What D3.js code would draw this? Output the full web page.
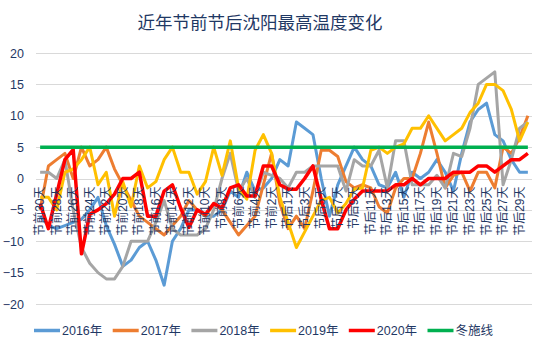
<!DOCTYPE html>
<html><head><meta charset="utf-8">
<script src="https://cdn.jsdelivr.net/npm/d3@7"></script>
<style>body{margin:0;background:#fff}svg{display:block}</style>
</head><body><div id="chart"></div>
<script>
const title = "近年节前节后沈阳最高温度变化";
const categories = [];
for (let d = 30; d >= 1; d--) categories.push("节前" + d + "天");
for (let d = 1; d <= 30; d++) categories.push("节后" + d + "天");
const yTicks = [-20, -15, -10, -5, 0, 5, 10, 15, 20];
const seriesNames = ["2016年", "2017年", "2018年", "2019年", "2020年", "冬施线"];
const s2016 = [-6,-7.5,-8,-7.5,-7,-6.5,-5,-3,-7.5,-10.5,-14,-13,-11,-10,-13,-17,-10,-8,-5,-5,-6,-6,-5,-2,-3,1,-2,-1.5,0,3,2,9,8,7,0,-6,-1,2,5,3,2,-1,-1.5,1,-3,1,0,1,3,1,-2,4,9,11,12,7,6,3,1,1];
const s2017 = [-5,2,3,4,0,5,2,3,5,1.5,-1,-3.5,-6,-7,-8,-9,-7.5,-6,-3.5,-5,-6,-4,-5,-7,-9,-7.5,-6,-1,4,-4,-8,-6,-8,-2,4.5,4.5,3.5,-0.5,-1.5,-1,-1.5,-4.5,-5.5,-1.5,0,0,4,9,4,-1.5,0.5,1,-2,1,1,-1.5,5,4,6.5,10];
const s2018 = [1,1,0,3,-5,-11,-13.5,-15,-16,-16,-14,-10,-10,-10,-7,-3.5,-8,-9,-9,-9,-8,-5,0,4,-2,0,-3,1,0.5,0,-1.5,1,1,2,2,2,2,-2,3,2,2,4.5,-1.5,6,6,-1,-1,-1,0.5,-1.5,4,3.5,8,15,16,17,-1,3,8,9];
const s2019 = [-3,-3,-5,1,1.5,3,5,-1,1,-6,-0.5,-4.5,2,-1.5,-0.5,3,5,1,1,-2.5,-0.5,5,0.5,6,-1.5,-3.3,4.5,7,4,-3,-7,-11,-8.5,-6,-3.5,-3,-5.5,-4,-1.7,-1.5,4.5,5,4,5,5.5,8,8,10,8,6,7,8,10.5,12,15,15,14,11,6,9];
const s2020 = [-4,-8,-2.5,3,4.6,-12,-5.7,-5,-4,-2.5,0,0,1,-6,-6,-2,-1,-4.7,-7.8,-5,-5.7,-4,-4.7,-1.5,-1,-2.8,-2.8,2,2,-1,-1.7,-1.7,0,2,-3.3,-8,-8,-5,-3.3,-2,-2,-2,-2,-1,-1,0,-1,0,0,0,1,1,1,2,2,1,2,3,3,4];
const s2021 = categories.map(() => 5);
const seriesData = [s2016, s2017, s2018, s2019, s2020, s2021];
const colors = ["#5B9BD5", "#ED7D31", "#A5A5A5", "#FFC000", "#FF0000", "#00B050"];
const widths = [3, 3, 3, 3, 3.5, 3.5];

const W = 545, H = 349;
const M = {left: 36, right: 13, top: 53, bottom: 45};
const svg = d3.select("#chart").append("svg").attr("width", W).attr("height", H);
const x = d3.scaleBand().domain(categories).range([M.left, W - M.right]);
const y = d3.scaleLinear().domain([-20, 20]).range([H - M.bottom, M.top]);
const textColor = "#1F3864";
const font = "'Liberation Sans','Noto Sans CJK SC',sans-serif";

svg.append("text").attr("x", 260).attr("y", 29).attr("text-anchor", "middle")
  .attr("font-family", "'Noto Sans CJK SC',sans-serif").attr("font-size", 17.5).attr("fill", textColor).text(title);

// gridlines
svg.append("g").selectAll("line").data(yTicks).join("line")
  .attr("x1", M.left).attr("x2", W - M.right)
  .attr("y1", d => Math.round(y(d)) + 0.5).attr("y2", d => Math.round(y(d)) + 0.5)
  .attr("stroke", "#D9D9D9").attr("stroke-width", 1);

// y axis
const yAxis = d3.axisLeft(y).tickValues(yTicks).tickSize(0).tickPadding(12);
const gy = svg.append("g").attr("transform", `translate(${M.left},0)`).call(yAxis);
gy.select(".domain").remove();
gy.selectAll("text").attr("font-family", font).attr("font-size", 12.5).attr("fill", textColor);

// lines
const line = d3.line().x((d, i) => x(categories[i]) + x.bandwidth() / 2).y(d => y(d));
const lg = svg.append("g");
seriesData.forEach((s, k) => {
  lg.append("path").datum(s).attr("d", line).attr("fill", "none")
    .attr("stroke", colors[k]).attr("stroke-width", widths[k]).attr("stroke-linejoin", "round");
});

// x labels (every other), rotated, at y=0
const xg = svg.append("g");
categories.forEach((c, i) => {
  if (i % 2 !== 0) return;
  const cx = x(c) + x.bandwidth() / 2;
  xg.append("text").attr("transform", `translate(${cx + 4},${y(0) + 8}) rotate(-90)`)
    .attr("text-anchor", "end").attr("font-family", font).attr("font-size", 12)
    .attr("fill", textColor).text(c);
});

// legend
const leg = svg.append("g");
seriesNames.forEach((n, k) => {
  const lx = 34 + k * 78.7;
  leg.append("line").attr("x1", lx).attr("x2", lx + 26).attr("y1", 330.5).attr("y2", 330.5)
    .attr("stroke", colors[k]).attr("stroke-width", 3.5);
  leg.append("text").attr("x", lx + 28).attr("y", 335).attr("font-family", font)
    .attr("font-size", 12.5).attr("fill", textColor).text(n);
});
</script></body></html>
